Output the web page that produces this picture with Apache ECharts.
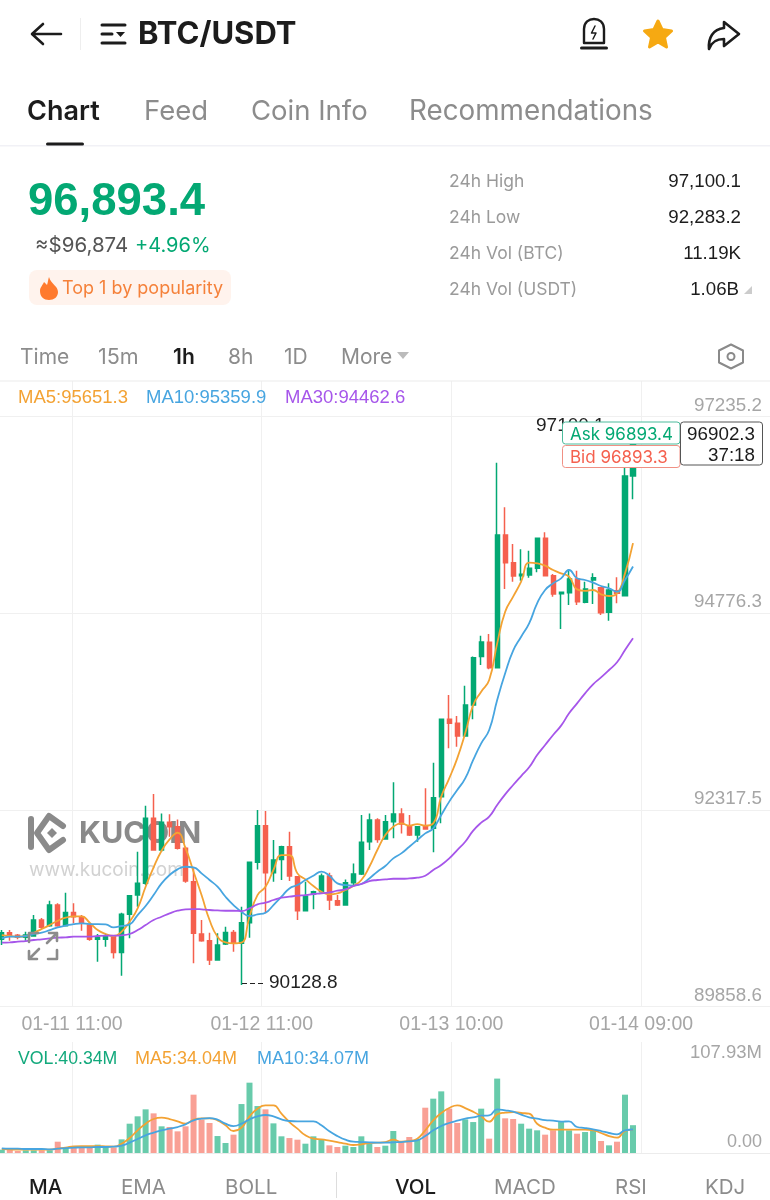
<!DOCTYPE html>
<html>
<head>
<meta charset="utf-8">
<title>BTC/USDT</title>
<script src="https://cdn.jsdelivr.net/npm/echarts@6/dist/echarts.min.js"></script>
<style>
html,body{margin:0;padding:0;background:#fff;}
#main{width:770px;height:1200px;}
</style>
</head>
<body>
<div id="main"></div>
<script>
// candles, one per hour
var opens = [90698,90781,90748,90723,90740,90940,90869,91127,90869,91035,
	90981,90877,90698,90698,90731,90535,91011,91252,91398,92211,
	91815,92161,92107,91836,91419,90765,90681,90440,90640,90785,
	90648,90906,91661,92119,91532,91698,91856,91482,91056,91265,
	91294,91490,91182,91127,91407,91515,91919,92190,91952,92169,
	92265,92119,92002,92119,92086,92482,93449,93399,93241,93628,
	94233,94412,94095,95754,95408,95245,95253,95337,95712,95245,
	95020,95033,95203,94912,95191,95095,94787,95058,94995,96491];
var closes = [90781,90740,90723,90752,90940,90848,91127,90869,91035,90981,
	90898,90698,90723,90731,90535,91011,91244,91398,92211,91815,
	92161,92107,91836,91427,90773,90681,90440,90627,90785,90648,
	90906,91661,92119,91532,91690,91856,91490,91056,91240,91294,
	91490,91190,91127,91407,91515,91911,92190,91948,92169,92265,
	92140,92002,92107,92077,92470,93449,93399,93241,93628,94220,
	94416,94095,95754,95408,95241,95262,95337,95712,95245,95016,
	95037,95203,94920,95078,95220,94783,95066,95024,96491,96902.3];
var lows = [90627,90681,90698,90681,90731,90827,90856,90856,90860,90898,
	90806,90681,90419,90606,90460,90244,90711,91107,91377,91806,
	91794,91982,91823,91406,90398,90669,90377,90431,90627,90544,
	90128.8,90719,91573,91023,91419,91440,91427,90940,91050,91073,
	91273,91065,91115,91120,91377,91502,91815,91906,91945,91961,
	92023,91990,91919,92070,91786,92149,93086,93107,93235,93449,
	94128,94074,94085,95078,95170,95183,95220,95287,95235,94983,
	94578,94878,94878,94899,94891,94753,94683,94899,94985,96200];
var highs = [90814,90814,90765,90794,91002,90965,91182,91148,91281,91148,
	91002,90898,90765,90765,90752,91031,91252,91794,92369,92515,
	92273,92261,92198,91856,91586,90940,90781,90773,90856,90814,
	91106,91670,92315,92303,91940,91869,92044,91490,91419,91307,
	91523,91532,91252,91448,91648,92253,92273,92211,92253,92661,
	92336,92253,92115,92586,92907,93460,93753,93491,93870,94233,
	94495,94516,96658,96100,95641,95574,95558,95720,95787,95266,
	95045,95324,95308,95170,95274,95105,95149,95224,96850,97100.1];

var ma5 = [90752,90740,90731,90740,90781,90827,90877,90931,90969,90985,
	90985,90906,90814,90765,90740,90794,90919,91085,91356,91598,
	91806,91948,92031,91836,91544,91252,90940,90731,90660,90648,
	90656,90981,91252,91356,91565,91752,91752,91523,91448,91365,
	91294,91261,91273,91315,91365,91440,91606,91815,92002,92107,
	92148,92119,92140,92119,92148,92482,92711,92961,93274,93628,
	93795,93941,94399,94795,94983,95170,95408,95399,95370,95316,
	95274,95233,95074,95054,95066,95012,94991,95024,95274,95651.3];
var ma10 = [90710,90731,90731,90740,90765,90781,90814,90848,90869,90889,
	90898,90889,90889,90885,90848,90865,90885,91002,91115,91252,
	91398,91502,91573,91606,91598,91523,91440,91356,91231,91127,
	91044,90990,91010,91031,91127,91231,91335,91377,91440,91494,
	91544,91494,91398,91377,91369,91390,91460,91544,91615,91711,
	91773,91856,91940,92023,92086,92253,92420,92565,92711,92941,
	93149,93316,93691,94024,94307,94482,94649,94899,95066,95149,
	95212,95316,95212,95191,95158,95116,95087,95045,95191,95359.9];
var ma30 = [90656,90660,90669,90677,90690,90698,90710,90719,90723,90731,
	90731,90731,90740,90744,90744,90748,90765,90814,90877,90940,
	90981,91023,91056,91073,91077,91073,91065,91060,91056,91056,
	91052,91085,91135,91156,91190,91219,91231,91244,91252,91265,
	91273,91285,91306,91323,91365,91390,91427,91440,91448,91456,
	91456,91460,91469,91494,91565,91627,91710,91815,91919,92057,
	92157,92232,92378,92511,92628,92740,92849,93003,93128,93253,
	93370,93524,93649,93774,93887,93974,94066,94162,94316,94462.6];

// volume in millions
var volumes = [4.8,4.8,2.9,3.9,3.9,3.9,3.9,16.4,7.7,7.7,
	7.7,7.7,12.1,8.7,7.7,19.8,42.5,53.2,63.3,57.5,
	38.7,37.7,31.4,38.7,84.6,48.3,43.5,24.6,14.5,26.6,
	71.0,102.0,68.1,63.3,43.0,24.2,21.7,19.3,13.5,24.2,
	19.3,11.1,8.7,10.6,8.7,24.2,13.5,8.7,10.6,31.9,
	17.4,23.2,19.8,65.7,78.8,89.4,64.3,43.5,48.8,44.9,
	64.3,20.8,107.93,50.3,49.3,42.5,35.3,32.9,26.6,32.9,
	44.9,32.9,28.0,30.4,33.8,17.4,11.1,16.4,84.6,40.34];
var volMa5 = [5.8,5.3,4.8,4.8,4.8,4.8,4.8,6.3,7.7,9.7,
	10.1,10.1,10.1,9.7,9.2,13.5,21.7,32.9,42.5,49.3,
	51.2,49.3,45.9,42.5,48.3,50.3,50.3,47.4,40.1,31.9,
	36.7,53.2,64.3,69.1,69.1,57.0,44.9,35.3,25.6,20.8,
	19.8,17.9,15.9,13.5,11.6,12.6,14.5,15.0,15.9,19.3,
	16.4,17.4,20.8,32.9,47.4,58.0,65.2,69.1,65.2,59.9,
	53.2,45.4,56.1,58.5,59.4,58.0,57.0,42.5,36.7,33.8,
	33.8,33.8,33.8,33.8,32.9,29.0,24.6,22.2,31.9,34.04];
var volMa10 = [6.8,6.3,6.3,5.8,5.8,5.8,5.3,6.3,7.2,7.7,
	8.2,8.2,8.7,8.7,9.2,10.6,15.0,20.3,25.6,29.5,
	32.9,35.3,37.7,41.6,47.4,49.8,50.7,48.3,42.5,39.1,
	42.5,48.8,53.2,55.1,53.2,48.8,46.4,45.9,45.9,45.9,
	40.1,31.4,24.6,19.3,16.4,15.9,15.5,15.0,15.0,15.5,
	15.9,16.9,18.4,24.6,32.9,39.1,43.5,46.9,49.8,51.7,
	54.1,54.6,63.3,61.9,59.9,55.6,51.7,49.8,47.8,46.9,
	45.4,45.9,37.7,36.2,34.3,31.9,29.0,27.1,32.9,34.07];

var priceTicks = [89858.6, 92317.5, 94776.3, 97235.2];
var timeTicks = ['', '01-11 11:00', '01-12 11:00', '01-13 10:00', '01-14 09:00', ''];
var volTickLabels = ['107.93M', '0.00'];

var GREEN = '#03a873', RED = '#f5604e', ORANGE = '#f3a233', BLUE = '#47a5e0', PURPLE = '#a656ea';
var GRIDLINE = '#f0f0f0', AXISTXT = '#a6a6a6', FONT = 'Inter', NUMFONT = 'Liberation Sans';

var LEFT = -2.2, BAND = 7.99, SLOTS = 97; // right part of the axis stays empty
var categories = [];
for (var i = 0; i < SLOTS; i++) {
	categories.push(String(i));
}
var candleData = [];
for (var j = 0; j < opens.length; j++) {
	candleData.push([opens[j], closes[j], lows[j], highs[j]]);
}

function line(name, data, color, xIdx) {
	return {
		name: name, type: 'line', data: data, xAxisIndex: xIdx, yAxisIndex: xIdx,
		smooth: true, showSymbol: false, silent: true, z: 5,
		lineStyle: {color: color, width: 1.8}
	};
}

function txt(x, y, s, color, size, opt) {
	opt = opt || {};
	return {
		type: 'text', x: x, y: y + 1, z: opt.z || 50,
		style: {
			text: s, fill: color, fontSize: size, fontFamily: opt.font || FONT,
			fontWeight: opt.weight || 400, textAlign: opt.align || 'left', textVerticalAlign: 'middle'
		}
	};
}
// same as txt, in the font whose digits have one fixed width
function num(x, y, s, color, size, opt) {
	opt = opt || {};
	opt.font = NUMFONT;
	return txt(x, y, s, color, size, opt);
}
// the graphic component has no plain path type, so each icon is registered as a shape
var shapeCount = 0;
function pathShape(d) {
	var name = 'icon' + (shapeCount++);
	echarts.graphic.registerShape(name, echarts.graphic.extendPath(d, {}));
	return name;
}
function stroke(d, color, width, z) {
	return {type: pathShape(d), z: z || 50,
		style: {fill: null, stroke: color, lineWidth: width, lineCap: 'round', lineJoin: 'round'}};
}
function fill(d, color, z) {
	return {type: pathShape(d), z: z || 50, style: {fill: color}};
}
function box(x, y, w, h, r, fillColor, strokeColor, z) {
	return {type: 'rect', z: z || 50, shape: {x: x, y: y, width: w, height: h, r: r},
		style: {fill: fillColor, stroke: strokeColor, lineWidth: strokeColor ? 1 : 0}};
}

var GRAY = '#8c8c8c', DARK = '#1c1c1c', MUTED = '#9a9a9a';
var graphicEls = [
	// top bar
	stroke('M33 34 L61 34 M43 24 L32 34 L43 44', DARK, 2.6),
	{type: 'rect', z: 50, shape: {x: 80, y: 18, width: 1, height: 32}, style: {fill: '#eeeeee'}},
	stroke('M102 25 L125 25 M102 34 L112 34 M102 43 L125 43', DARK, 3),
	fill('M116 32 L125 32 L120.5 37 Z', DARK),
	txt(138, 34, 'BTC/USDT', DARK, 31, {weight: 700}),
	stroke('M584 43 L584 29 C584 22 589 19 594 19 C599 19 604 22 604 29 L604 43 Z', DARK, 2.4),
	stroke('M581.5 48 L606.5 48', DARK, 3),
	stroke('M595 26 L591.5 33 L596 33 L593 39', DARK, 1.5),
	{type: pathShape('M658 21 L662 29.5 L671.5 31 L664.5 37.5 L666.5 47 L658 42 L649.5 47 L651.5 37.5 L644.5 31 L654 29.5 Z'), z: 50,
		style: {fill: '#f6a912', stroke: '#f6a912', lineWidth: 3, lineJoin: 'round'}},
	stroke('M724 22 L739 34 L724 46 L724 39 C716 39 711 43 709 49 C708 38 713 29 724 28 Z', DARK, 2.6),

	// tabs
	txt(27, 111, 'Chart', DARK, 27, {weight: 600}),
	txt(144, 111, 'Feed', GRAY, 27.5),
	txt(251, 111, 'Coin Info', GRAY, 27.5),
	txt(409, 111, 'Recommendations', GRAY, 27.8),
	{type: 'rect', z: 50, shape: {x: 0, y: 145, width: 770, height: 1.5}, style: {fill: '#f1f1f6'}},
	box(46, 142.5, 38, 3, 1.5, DARK, null, 51),

	// price block
	num(28, 201, '96,893.4', GREEN, 45.5, {weight: 700}),
	txt(35, 245, '≈$96,874', '#555555', 20.5),
	txt(135, 245, '+4.96%', GREEN, 20),
	box(29, 270, 202, 35, 8, '#fff3ed', null),
	fill('M49 277 C51 284 58 286 58 292 C58 297 54 300 49 300 C44 300 40 297 40 291 C40 287 43 285 44 282 C46 284 47 285 47 285 C48 282 48 280 49 277 Z', '#ff7a2e', 51),
	txt(62, 288, 'Top 1 by popularity', '#f5813a', 18),

	// stats
	txt(449, 181, '24h High', MUTED, 17.5),
	txt(449, 217, '24h Low', MUTED, 17.5),
	txt(449, 253, '24h Vol (BTC)', MUTED, 17.5),
	txt(449, 289, '24h Vol (USDT)', MUTED, 17.5),
	num(741, 181, '97,100.1', DARK, 18.7, {align: 'right'}),
	num(741, 217, '92,283.2', DARK, 18.7, {align: 'right'}),
	num(741, 253, '11.19K', DARK, 18.7, {align: 'right'}),
	num(739, 289, '1.06B', DARK, 18.7, {align: 'right'}),
	fill('M744 294 L752 294 L752 286 Z', '#cccccc'),

	// interval row
	txt(20, 357, 'Time', GRAY, 21),
	txt(98, 357, '15m', GRAY, 21.5),
	txt(173, 357, '1h', DARK, 21, {weight: 600}),
	txt(228, 357, '8h', GRAY, 21),
	txt(284, 357, '1D', GRAY, 21),
	txt(341, 357, 'More', GRAY, 21),
	fill('M397 352 L409 352 L403 359 Z', '#bbbbbb'),
	stroke('M731 344.5 L743 350.5 L743 362.5 L731 368.5 L719 362.5 L719 350.5 Z', '#8a8a8a', 2),
	{type: 'circle', z: 50, shape: {cx: 731, cy: 356.5, r: 3.5}, style: {fill: null, stroke: '#8a8a8a', lineWidth: 2}},
	{type: 'rect', z: 50, shape: {x: 0, y: 380.5, width: 770, height: 1}, style: {fill: '#ebebeb'}},

	// legends
	num(18, 397, 'MA5:95651.3', ORANGE, 18.5),
	num(146, 397, 'MA10:95359.9', BLUE, 18.5),
	num(285, 397, 'MA30:94462.6', PURPLE, 18.5),
	num(18, 1058, 'VOL:40.34M', '#12a97c', 17.7),
	num(135, 1058, 'MA5:34.04M', ORANGE, 18),
	num(257, 1058, 'MA10:34.07M', BLUE, 18),
	num(762, 1052, volTickLabels[0], AXISTXT, 18.5, {align: 'right'}),
	num(762, 1141, volTickLabels[1], AXISTXT, 18, {align: 'right'}),

	// watermark, under the candles
	stroke('M31 819 L31 847', '#8a8a8a', 6, 1),
	stroke('M63 826 L49 816 L37 833 L49 850 L63 840', '#8a8a8a', 6, 1),
	fill('M52 828 L57 833 L52 838 L47 833 Z', '#8a8a8a', 1),
	txt(79, 833, 'KUCOIN', '#8a8a8a', 30.5, {weight: 700, z: 1}),
	txt(29, 869, 'www.kucoin.com', '#d2d2d2', 19, {z: 1}),

	// fullscreen icon
	stroke('M29 942 L29 933 L38 933', '#8c8c8c', 2.6, 20),
	stroke('M47 943 L57 933 M49 933 L57 933 L57 941', '#8c8c8c', 2.6, 20),
	stroke('M39 949 L29 959 M29 951 L29 959 L37 959', '#8c8c8c', 2.6, 20),
	stroke('M57 950 L57 959 L48 959', '#8c8c8c', 2.6, 20),

	// high and low notes
	{type: 'line', z: 20, shape: {x1: 242, y1: 983.5, x2: 264, y2: 983.5},
		style: {stroke: '#222222', lineWidth: 1.2, lineDash: [5, 3]}},
	num(269, 982, '90128.8', '#222222', 19, {z: 20}),
	num(536, 425, '97100.1', '#222222', 19, {z: 20}),

	// quote boxes
	box(562.5, 422, 117.5, 22, 3, '#ffffff', '#4dbb9c', 30),
	txt(570, 433.5, 'Ask 96893.4', GREEN, 17, {z: 31}),
	box(562.5, 445.5, 117.5, 22, 3, '#ffffff', '#f09084', 30),
	txt(570, 457, 'Bid 96893.3', RED, 17, {z: 31}),
	box(680.5, 422, 82, 43, 3, '#ffffff', '#555555', 30),
	num(755, 434, '96902.3', DARK, 18.8, {align: 'right', z: 31}),
	num(755, 455, '37:18', DARK, 18.8, {align: 'right', z: 31}),

	// bottom row
	txt(29, 1187, 'MA', DARK, 20.5, {weight: 500}),
	txt(121, 1187, 'EMA', GRAY, 20.5),
	txt(225, 1187, 'BOLL', GRAY, 20.5),
	{type: 'rect', z: 50, shape: {x: 336, y: 1172, width: 1, height: 26}, style: {fill: '#dddddd'}},
	txt(395, 1187, 'VOL', DARK, 20.5, {weight: 500}),
	txt(494, 1187, 'MACD', GRAY, 20.5),
	txt(615, 1187, 'RSI', GRAY, 20.5),
	txt(705, 1187, 'KDJ', GRAY, 20.5)
];

var myChart = echarts.init(document.getElementById('main'));
var gridW = SLOTS * BAND;
var option = {
	animation: false,
	backgroundColor: '#ffffff',
	grid: [
		{left: LEFT, top: 416.5, width: gridW, height: 590, outerBoundsMode: 'none'},
		{left: LEFT, top: 1042, width: gridW, height: 111, outerBoundsMode: 'none'},
		// vertical guides do not sit on candles, so they get their own grids
		{left: -117.7, top: 381, width: 948.5, height: 625.5, outerBoundsMode: 'none'},
		{left: -117.7, top: 1042, width: 948.5, height: 111, outerBoundsMode: 'none'}
	],
	xAxis: [
		{type: 'category', gridIndex: 0, data: categories, show: false},
		{type: 'category', gridIndex: 1, data: categories, show: false},
		{
			type: 'value', gridIndex: 2, min: 0, max: 5, interval: 1,
			axisLine: {show: false}, axisTick: {show: false},
			axisLabel: {
				color: AXISTXT, fontSize: 19.5, fontFamily: NUMFONT, margin: 8,
				formatter: function (v) { return timeTicks[v]; }
			},
			splitLine: {show: true, lineStyle: {color: GRIDLINE, width: 1}}
		},
		{
			type: 'value', gridIndex: 3, min: 0, max: 5, interval: 1,
			axisLine: {show: true, lineStyle: {color: '#ececec'}}, axisTick: {show: false}, axisLabel: {show: false},
			splitLine: {show: true, lineStyle: {color: GRIDLINE, width: 1}}
		}
	],
	yAxis: [
		{
			type: 'value', gridIndex: 0, position: 'right',
			min: priceTicks[0], max: priceTicks[3],
			axisLine: {show: false},
			axisTick: {show: false, customValues: priceTicks},
			axisLabel: {
				inside: true, margin: 11, color: AXISTXT, fontSize: 18.8, fontFamily: NUMFONT,
				verticalAlign: 'bottom', lineHeight: 22, customValues: priceTicks,
				formatter: function (v) { return v.toFixed(1); }
			},
			splitLine: {show: true, lineStyle: {color: GRIDLINE, width: 1}}
		},
		{type: 'value', gridIndex: 1, min: 0, max: 161, show: false},
		{type: 'value', gridIndex: 2, min: 0, max: 1, show: false},
		{type: 'value', gridIndex: 3, min: 0, max: 1, show: false}
	],
	series: [
		{
			name: 'KLine', type: 'candlestick', data: candleData, xAxisIndex: 0, yAxisIndex: 0,
			barWidth: 4.6, silent: true, z: 3,
			itemStyle: {color: GREEN, color0: RED, borderColor: GREEN, borderColor0: RED, borderWidth: 1.5}
		},
		line('MA5', ma5, ORANGE, 0),
		line('MA10', ma10, BLUE, 0),
		line('MA30', ma30, PURPLE, 0),
		{
			name: 'VOL', type: 'bar', data: volumes, xAxisIndex: 1, yAxisIndex: 1,
			barWidth: 6, silent: true, z: 3,
			itemStyle: {
				opacity: 0.6,
				color: function (p) { return closes[p.dataIndex] >= opens[p.dataIndex] ? GREEN : RED; }
			}
		},
		line('VOL MA5', volMa5, ORANGE, 1),
		line('VOL MA10', volMa10, BLUE, 1)
	],
	graphic: {elements: graphicEls}
};
myChart.setOption(option);
</script>
</body>
</html>
